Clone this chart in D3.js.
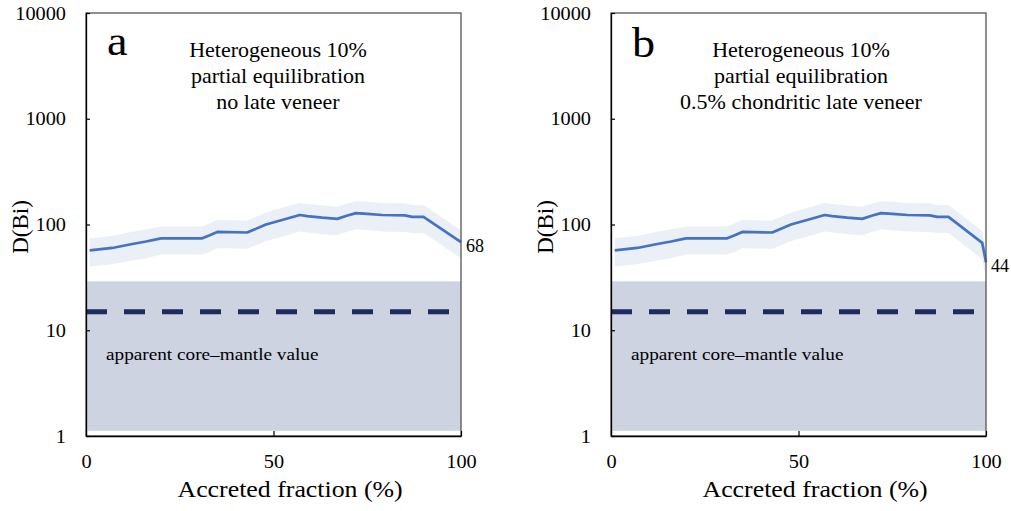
<!DOCTYPE html>
<html>
<head>
<meta charset="utf-8">
<script src="https://cdn.jsdelivr.net/npm/d3@7"></script>
<style>
  body { margin: 0; background: #fff; }
  svg text { font-family: "Liberation Serif", "Times New Roman", serif; fill: #000; }
</style>
</head>
<body>
<svg id="chart" width="1011" height="511"></svg>
<script>
// accreted fraction (%) and D(Bi) along the curve
var fracA = [1, 7, 12, 16, 20, 31, 33, 35, 43, 48, 53, 57, 59, 63, 67, 69.5, 72, 75, 79, 85, 87, 90, 100];
var dA    = [57, 60, 65, 69, 74, 74, 79, 85, 84, 100, 112, 123, 120, 116, 113, 121, 128, 126, 123, 122, 118, 118, 68];
var loA   = [40, 42, 45.5, 48, 52, 52, 55, 59.5, 59, 70, 78, 86, 84, 81, 79, 85, 90, 88, 86, 85, 83, 83, 48];
var hiA   = [74, 78, 85, 90, 96, 96, 103, 110, 109, 130, 146, 160, 156, 151, 147, 157, 166, 164, 160, 159, 153, 153, 88];

var fracB = [1, 7, 12, 16, 20, 31, 33, 35, 43, 48, 53, 57, 59, 63, 67, 69.5, 72, 75, 79, 85, 87, 90, 99, 100];
var dB    = [57, 60, 65, 69, 74, 74, 79, 85, 84, 100, 112, 123, 120, 116, 113, 121, 128, 126, 123, 122, 118, 118, 67, 44];
var loB   = [40, 42, 45.5, 48, 52, 52, 55, 59.5, 59, 70, 78, 86, 84, 81, 79, 85, 90, 88, 86, 85, 83, 83, 47, 31];
var hiB   = [74, 78, 85, 90, 96, 96, 103, 110, 109, 130, 146, 160, 156, 151, 147, 157, 166, 164, 160, 159, 153, 153, 87, 57];

var coreMantle = 15;          // dashed line
var coreBand = [1.12, 29];    // grey range
var yTicks = [1, 10, 100, 1000, 10000];
var xTicks = [0, 50, 100];

var panels = [
  {letter: "a", x0: 86, frac: fracA, d: dA, lo: loA, hi: hiA, endLabel: "68",
   title: ["Heterogeneous 10%", "partial equilibration", "no late veneer"], titleX: 278, letterY: 55},
  {letter: "b", x0: 611, frac: fracB, d: dB, lo: loB, hi: hiB, endLabel: "44",
   title: ["Heterogeneous 10%", "partial equilibration", "0.5% chondritic late veneer"], titleX: 801, letterY: 57}
];

var svg = d3.select("#chart");
var plotTop = 13, plotBottom = 436, plotW = 375;
var sx = 1.1;

function label(g, x, y, str, size, anchor, stretch) {
  return g.append("text")
    .attr("transform", "translate(" + x + "," + y + ") scale(" + (stretch || sx) + ",1)")
    .attr("text-anchor", anchor || "start")
    .style("font-size", size + "px")
    .text(str);
}

panels.forEach(function(p) {
  var x = d3.scaleLinear().domain([0, 100]).range([p.x0, p.x0 + plotW]);
  var y = d3.scaleLog().domain([1, 10000]).range([plotBottom, plotTop]);
  var g = svg.append("g");

  // grey band
  g.append("rect")
    .attr("x", x(0)).attr("width", x(100) - x(0))
    .attr("y", y(coreBand[1])).attr("height", y(coreBand[0]) - y(coreBand[1]))
    .attr("fill", "#cdd3e0");

  // uncertainty envelope
  var pts = p.frac.map(function(f, i) { return {f: f, d: p.d[i], lo: p.lo[i], hi: p.hi[i]}; });
  g.append("path")
    .datum(pts)
    .attr("fill", "#ebf0f7")
    .attr("d", d3.area()
      .x(function(d) { return x(d.f); })
      .y0(function(d) { return y(d.lo); })
      .y1(function(d) { return y(d.hi); }));

  g.append("path")
    .datum(pts)
    .attr("fill", "none")
    .attr("stroke", "#4472c4")
    .attr("stroke-width", 2.7)
    .attr("stroke-linejoin", "round")
    .attr("d", d3.line()
      .x(function(d) { return x(d.f); })
      .y(function(d) { return y(d.d); }));

  // dashed core-mantle line
  g.append("line")
    .attr("x1", x(0)).attr("x2", x(100))
    .attr("y1", y(coreMantle)).attr("y2", y(coreMantle))
    .attr("stroke", "#1f2b5e")
    .attr("stroke-width", 5)
    .attr("stroke-dasharray", "21,17");

  // frame
  g.append("rect")
    .attr("x", x(0)).attr("y", plotTop)
    .attr("width", plotW).attr("height", plotBottom - plotTop)
    .attr("fill", "none").attr("stroke", "#555").attr("stroke-width", 1.3);

  // axes
  var yAxis = d3.axisLeft(y).tickValues(yTicks).tickSizeInner(-4).tickSizeOuter(0)
    .tickFormat(d3.format("d"));
  var ya = g.append("g").attr("transform", "translate(" + x(0) + ",0)").call(yAxis);
  var xAxis = d3.axisBottom(x).tickValues(xTicks).tickSizeInner(-5).tickSizeOuter(0);
  var xa = g.append("g").attr("transform", "translate(0," + plotBottom + ")").call(xAxis);
  [ya, xa].forEach(function(a) {
    a.select(".domain").attr("stroke", "#000").attr("stroke-width", 1.3);
    a.selectAll(".tick line").attr("stroke", "#000").attr("stroke-width", 1.2);
    a.selectAll(".tick text")
      .style("font-size", "19px")
      .style("font-family", "'Liberation Serif', serif");
  });
  ya.selectAll(".tick text")
    .attr("x", null).attr("dy", "0.32em")
    .attr("transform", "translate(-20,0) scale(1.07,1)");
  xa.selectAll(".tick text")
    .attr("y", null).attr("dy", null)
    .attr("transform", "translate(0,32) scale(1.07,1)");

  // texts
  label(g, x(0) + 21, p.letterY, p.letter, 42, "start");
  p.title.forEach(function(t, i) {
    label(g, p.titleX, 57 + i * 26, t, 20, "middle");
  });
  label(g, x(0) + 20, y(5.2), "apparent core\u2013mantle value", 17.5, "start");
  var last = pts[pts.length - 1];
  label(g, x(100) + 5, y(last.d) + 10, p.endLabel, 18, "start", 1);

  label(g, x(50) - 96, 497, "Accreted fraction (%)", 23.5, "start");
  g.append("text")
    .attr("transform", "translate(" + (x(0) - 58) + ",227) rotate(-90)")
    .attr("text-anchor", "middle")
    .style("font-size", "23px")
    .text("D(Bi)");
});
</script>
</body>
</html>
